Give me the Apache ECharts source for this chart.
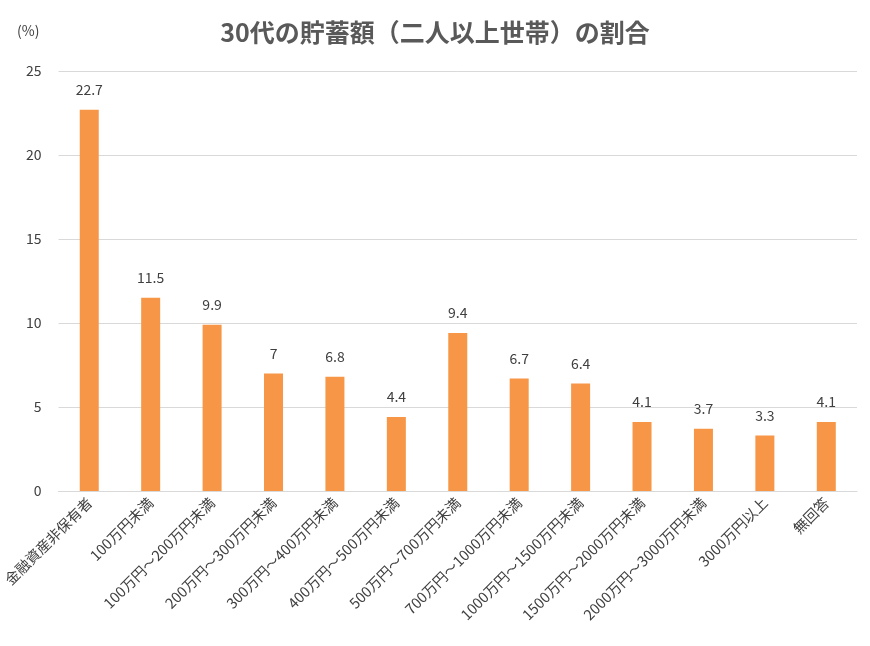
<!DOCTYPE html>
<html><head><meta charset="utf-8">
<script src="https://cdn.jsdelivr.net/npm/echarts@6/dist/echarts.min.js"></script>
<style>html,body{margin:0;padding:0;background:#fff}#c{width:870px;height:646px}</style>
</head><body><div id="c"></div>
<script>
const categories = ['金融資産非保有者','100万円未満','100万円～200万円未満','200万円～300万円未満','300万円～400万円未満','400万円～500万円未満','500万円～700万円未満','700万円～1000万円未満','1000万円～1500万円未満','1500万円～2000万円未満','2000万円～3000万円未満','3000万円以上','無回答'];
const values = [22.7, 11.5, 9.9, 7, 6.8, 4.4, 9.4, 6.7, 6.4, 4.1, 3.7, 3.3, 4.1];
const yTicks = [0, 5, 10, 15, 20, 25];
const FONT = '"Noto Sans CJK JP", "Noto Sans", sans-serif';
const chart = echarts.init(document.getElementById('c'));
chart.setOption({
  animation: false,
  textStyle: { fontFamily: FONT },
  title: {
    text: '30代の貯蓄額（二人以上世帯）の割合',
    left: 'center', top: 15,
    textStyle: { fontSize: 25, fontWeight: 'bold', color: '#595959', fontFamily: FONT }
  },
  graphic: [{ type: 'text', left: 17, top: 24, style: { text: '(%)', fontSize: 14, fill: '#404040', fontFamily: FONT } }],
  grid: { left: 58, right: 13, top: 71, bottom: 155 },
  xAxis: {
    type: 'category', data: categories,
    axisLine: { lineStyle: { color: '#d9d9d9', width: 1 } },
    axisTick: { show: false },
    axisLabel: { rotate: 45, interval: 0, fontSize: 14.5, color: '#404040', margin: 9, fontFamily: FONT }
  },
  yAxis: {
    type: 'value', min: yTicks[0], max: yTicks[yTicks.length - 1], interval: 5,
    axisLine: { show: false }, axisTick: { show: false },
    splitLine: { lineStyle: { color: '#d9d9d9', width: 1 } },
    axisLabel: { fontSize: 14, color: '#404040', margin: 17, fontFamily: FONT }
  },
  series: [{
    type: 'bar', data: values, barWidth: 19,
    itemStyle: { color: '#F79646' },
    label: { show: true, position: 'top', distance: 13, fontSize: 14, color: '#404040', fontFamily: FONT }
  }]
});
</script></body></html>
